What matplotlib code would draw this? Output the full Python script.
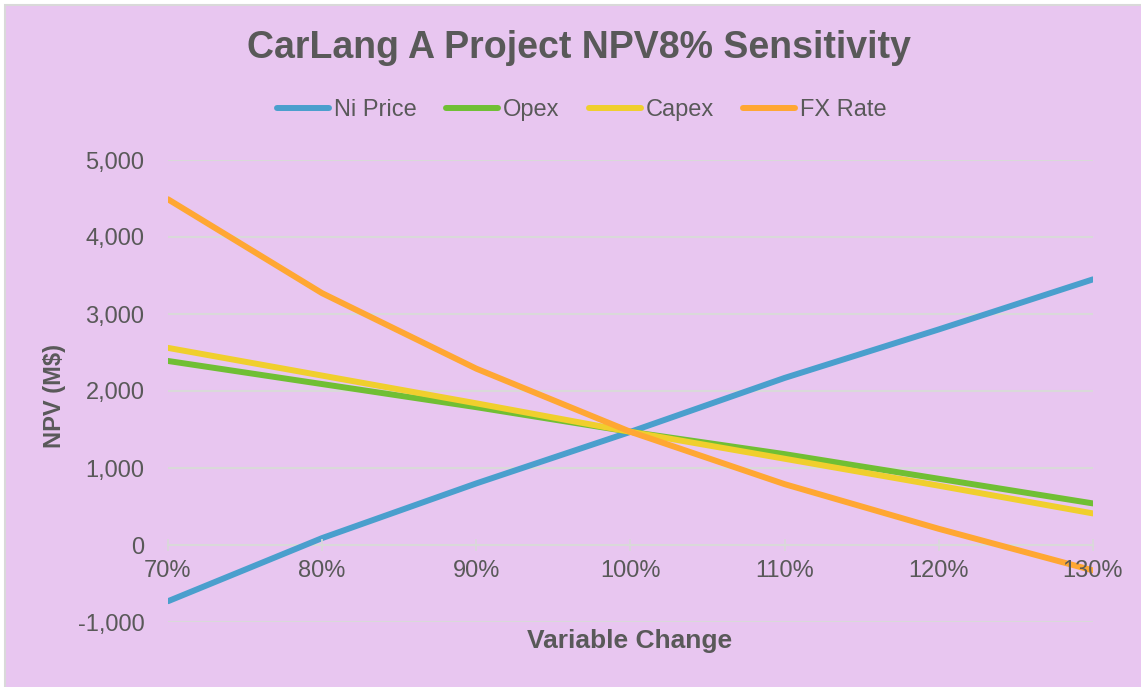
import matplotlib
matplotlib.use("Agg")
import matplotlib.pyplot as plt
from matplotlib.patches import Rectangle
from matplotlib.ticker import FuncFormatter

plt.rcParams['font.family'] = ['Liberation Sans', 'DejaVu Sans']

x_labels = ["70%", "80%", "90%", "100%", "110%", "120%", "130%"]
x_vals = [70, 80, 90, 100, 110, 120, 130]
ni_price = [-730, 90, 800, 1470, 2170, 2800, 3450]
opex = [2390, 2090, 1790, 1470, 1180, 860, 540]
capex = [2560, 2200, 1840, 1470, 1120, 770, 410]
fx_rate = [4490, 3270, 2290, 1470, 790, 210, -330]

series = [("Ni Price", ni_price, "#4A9FCD"),
          ("Opex", opex, "#70BF34"),
          ("Capex", capex, "#F0CF2D"),
          ("FX Rate", fx_rate, "#FFA733")]

W, H = 1141, 687
fig = plt.figure(figsize=(W / 100, H / 100), dpi=100, facecolor="white")
fig.patches.append(Rectangle((5 / W, -0.1), 1.2, (H - 5) / H + 0.1, transform=fig.transFigure,
                             facecolor="#E8C6F0", edgecolor="#D9D9D9", linewidth=1.5, zorder=-10))

ax = fig.add_axes([168 / W, (H - 622) / H, (1093 - 168) / W, (622 - 160) / H])
ax.set_facecolor("none")

txt = "#595959"
yticks = [-1000, 0, 1000, 2000, 3000, 4000, 5000]
for yt in yticks:
    if yt != 0:
        ax.axhline(yt, color="#D9D9D9", lw=1.5, zorder=1)

for name, vals, col in series:
    ax.plot(x_vals, vals, color=col, lw=4.3, label=name, solid_capstyle="round", zorder=2)

ax.set_xlim(70, 130)
ax.set_ylim(-1000, 5000)
ax.set_yticks(yticks)
ax.yaxis.set_major_formatter(FuncFormatter(lambda v, p: f"{int(v):,}"))
ax.set_xticks(x_vals)
ax.set_xticklabels(x_labels)

for s in ["left", "right", "top"]:
    ax.spines[s].set_visible(False)
ax.spines["bottom"].set_position(("data", 0))
ax.spines["bottom"].set_color("#D9D9D9")
ax.spines["bottom"].set_linewidth(1.5)
ax.spines["bottom"].set_zorder(1)
ax.xaxis.set_zorder(5)
ax.yaxis.set_zorder(5)

ax.tick_params(axis="y", length=0, pad=17, labelsize=17, labelcolor=txt)
ax.tick_params(axis="x", direction="inout", length=8, width=1.2, color="#D9D9D9",
               pad=7, labelsize=17, labelcolor=txt)

fig.text(579 / W, 1 - 48 / H, "CarLang A Project NPV8% Sensitivity", ha="center", va="center",
         fontsize=27, fontweight="bold", color=txt)
fig.text(630 / W, 1 - 641 / H, "Variable Change", ha="center", va="center",
         fontsize=19, fontweight="bold", color=txt)
fig.text(55 / W, 1 - 396 / H, "NPV (M$)", ha="center", va="center", rotation=90,
         fontsize=17, fontweight="bold", color=txt)

leg = fig.legend(loc="center", bbox_to_anchor=(582 / W, 1 - 110 / H), ncol=4, frameon=False,
                 fontsize=17, handlelength=2.2, handletextpad=0.2, columnspacing=1.25,
                 labelcolor=txt)

fig.savefig("out.png", dpi=100, facecolor=fig.get_facecolor())
